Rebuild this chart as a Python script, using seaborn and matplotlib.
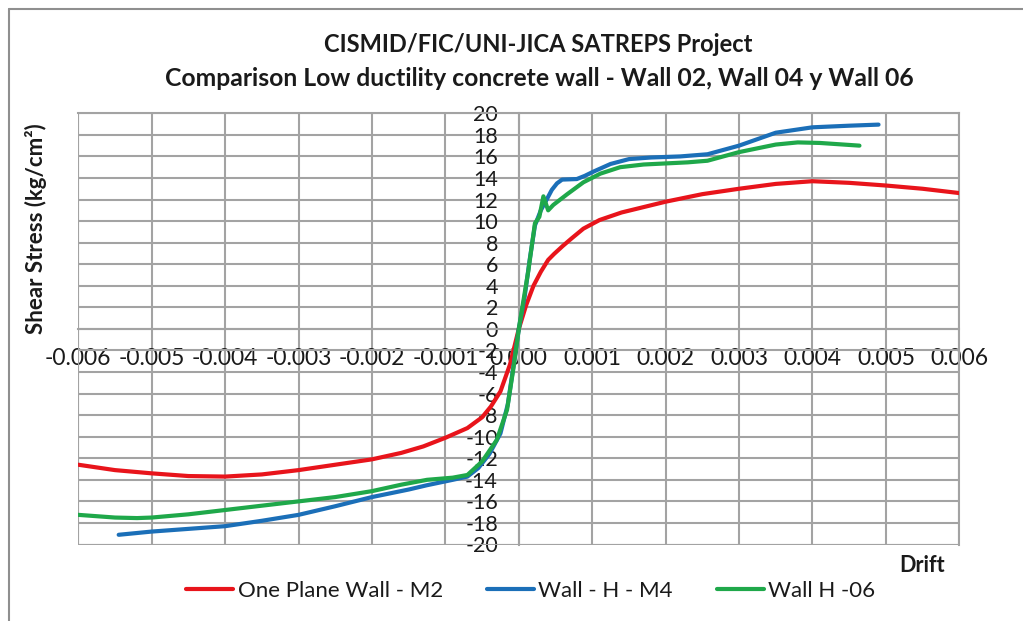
import numpy as np
import pandas as pd
import matplotlib
matplotlib.use("Agg")
import matplotlib.pyplot as plt
from matplotlib.lines import Line2D
import seaborn as sns

# ---- data -------------------------------------------------------------
series_names = ["One Plane Wall - M2", "Wall - H - M4", "Wall H -06"]
series_colors = ["#e8141b", "#1b6fb8", "#1fa84a"]

m2_drift = [-0.0060, -0.0055, -0.0050, -0.0045, -0.0040, -0.0035, -0.0030,
            -0.0025, -0.0020, -0.0016, -0.0013, -0.0010, -0.0007, -0.0005,
            -0.00038, -0.00025, -0.00012, 0.0, 0.0001, 0.0002, 0.0003,
            0.0004, 0.00048, 0.0006, 0.00072, 0.00088, 0.0011, 0.0014, 0.0017,
            0.0020, 0.0025, 0.0030, 0.0035, 0.0040, 0.0045, 0.0050, 0.0055,
            0.0060]
m2_stress = [-12.6, -13.1, -13.4, -13.65, -13.7, -13.5, -13.1,
             -12.6, -12.1, -11.5, -10.9, -10.1, -9.2, -8.2,
             -7.2, -5.8, -3.3, 0.0, 2.2, 4.0, 5.3,
             6.4, 6.95, 7.7, 8.4, 9.3, 10.1, 10.8, 11.3,
             11.8, 12.5, 13.0, 13.45, 13.7, 13.55, 13.3, 13.0,
             12.6]

m4_drift = [-0.00545, -0.0050, -0.0045, -0.0040, -0.0035, -0.0030, -0.0025,
            -0.0020, -0.0015, -0.00125, -0.0009, -0.0007, -0.00055, -0.0004,
            -0.00025, -0.00015, -0.00008, 0.0, 0.00008, 0.00015, 0.00022,
            0.0003, 0.00038, 0.00045, 0.00052, 0.00059, 0.00079, 0.0009,
            0.00102, 0.00125, 0.0015, 0.0018, 0.0022, 0.00257, 0.0030, 0.0035,
            0.0040, 0.0045, 0.0049]
m4_stress = [-19.1, -18.8, -18.55, -18.3, -17.8, -17.25, -16.45,
             -15.6, -14.9, -14.5, -14.0, -13.7, -12.9, -11.6,
             -9.7, -7.0, -3.8, 0.0, 3.0, 6.5, 9.6,
             11.0, 12.0, 12.9, 13.5, 13.85, 13.9, 14.2,
             14.6, 15.3, 15.75, 15.9, 16.0, 16.2, 17.0, 18.2,
             18.7, 18.85, 18.95]

h06_drift = [-0.0060, -0.0055, -0.0052, -0.0050, -0.0045, -0.0040, -0.0035,
             -0.0030, -0.0025, -0.0020, -0.0016, -0.00125, -0.0009, -0.0007,
             -0.0005, -0.0003, -0.00016, -0.00007, 0.0, 0.00006, 0.00013,
             0.00022, 0.00028, 0.000335, 0.0004, 0.00047, 0.00066, 0.00088,
             0.00111, 0.00138, 0.0017, 0.0020, 0.0023, 0.00257, 0.0030,
             0.0035, 0.0038, 0.0041, 0.00464]
h06_stress = [-17.25, -17.5, -17.55, -17.5, -17.2, -16.8, -16.4,
              -16.0, -15.6, -15.05, -14.45, -14.0, -13.8, -13.55,
              -12.3, -10.3, -7.5, -3.5, 0.0, 2.5, 5.4,
              9.8, 10.4, 12.3, 11.0, 11.5, 12.5, 13.6,
              14.4, 15.0, 15.25, 15.35, 15.45, 15.6, 16.4,
              17.1, 17.3, 17.25, 17.0]

x_ticks = [-0.006, -0.005, -0.004, -0.003, -0.002, -0.001, 0.0,
           0.001, 0.002, 0.003, 0.004, 0.005, 0.006]
x_tick_labels = ["-0.006", "-0.005", "-0.004", "-0.003", "-0.002", "-0.001",
                 "0.000", "0.001", "0.002", "0.003", "0.004", "0.005", "0.006"]
y_ticks = list(range(-20, 21, 2))

title_line1 = "CISMID/FIC/UNI-JICA SATREPS Project"
title_line2 = "Comparison Low ductility concrete wall - Wall 02, Wall 04 y Wall 06"
y_label = "Shear Stress (kg/cm²)"
x_label = "Drift"

# ---- long-form table --------------------------------------------------
frames = []
for name, xs, ys in zip(series_names,
                        [m2_drift, m4_drift, h06_drift],
                        [m2_stress, m4_stress, h06_stress]):
    frames.append(pd.DataFrame({"drift": xs, "stress": ys, "series": name}))
df = pd.concat(frames, ignore_index=True)

# ---- style ------------------------------------------------------------
sns.set_style("white")
plt.rcParams["font.family"] = ["Lato", "DejaVu Sans"]
grid_color = "#a3a3a3"
text_color = "#1a1a1a"

fig = plt.figure(figsize=(10.23, 6.21), dpi=100)
ax = fig.add_axes([78.3 / 1023, 1 - 544.5 / 621,
                   (959.3 - 78.3) / 1023, (544.5 - 113.3) / 621])

sns.lineplot(data=df, x="drift", y="stress", hue="series",
             hue_order=series_names, palette=series_colors,
             estimator=None, sort=False, linewidth=3.0, ax=ax,
             legend=True, zorder=3)
for line in ax.lines:
    line.set_solid_joinstyle("round")
    line.set_solid_capstyle("round")

ax.set_xlim(-0.006, 0.006)
ax.set_ylim(-20, 20)
ax.set_xticks(x_ticks)
ax.set_xticklabels(x_tick_labels)
ax.set_yticks(y_ticks)
ax.set_yticklabels([str(v) for v in y_ticks])
ax.grid(True, color=grid_color, linewidth=1.5, zorder=1)
ax.set_axisbelow(True)
ax.set_xlabel("")
ax.set_ylabel("")

# axes cross at the origin; tick labels sit beside the zero lines
for side in ["top", "right"]:
    ax.spines[side].set_color(grid_color)
    ax.spines[side].set_linewidth(1.5)
ax.spines["left"].set_position(("data", 0))
ax.spines["bottom"].set_position(("data", 0))
ax.spines["left"].set_color(grid_color)
ax.spines["bottom"].set_color(grid_color)
ax.spines["left"].set_linewidth(1.5)
ax.spines["bottom"].set_linewidth(1.5)
# full outer frame drawn as lines along the limits
ax.axvline(-0.006, color=grid_color, linewidth=1.5, zorder=1)
ax.axhline(-20, color=grid_color, linewidth=1.5, zorder=1)

ax.tick_params(axis="x", length=0, pad=14, labelsize=16.5, labelcolor=text_color)
ax.tick_params(axis="y", length=0, pad=15, labelsize=15.5, labelcolor=text_color)

# legend below the plot
handles, labels = ax.get_legend_handles_labels()
ax.get_legend().remove()
for h in handles:
    h.set_linewidth(3.0)
fig.legend(handles, labels, loc="center", bbox_to_anchor=(531 / 1023, 1 - 591 / 621),
           ncol=3, frameon=False, fontsize=16, handlelength=2.1,
           handletextpad=0.2, columnspacing=2.0, labelcolor=text_color)

# titles and axis names
fig.text(538 / 1023, 1 - 45 / 621, title_line1, ha="center", va="center",
         fontsize=17, fontweight="bold", color=text_color)
fig.text(539 / 1023, 1 - 79 / 621, title_line2, ha="center", va="center",
         fontsize=17.8, fontweight="bold", color=text_color)
fig.text(36 / 1023, 1 - 229 / 621, y_label, ha="center", va="center",
         rotation=90, fontsize=16, fontweight="bold", color=text_color)
fig.text(945 / 1023, 1 - 565 / 621, x_label, ha="right", va="center",
         fontsize=15.5, fontweight="bold", color=text_color)

# chart-area border (top and left edges)
border = "#8f8f8f"
fig.add_artist(Line2D([9.3 / 1023, 1.0], [1 - 8.7 / 621, 1 - 8.7 / 621],
                      transform=fig.transFigure, color=border, linewidth=1.5))
fig.add_artist(Line2D([9.3 / 1023, 9.3 / 1023], [0.0, 1 - 8.7 / 621],
                      transform=fig.transFigure, color=border, linewidth=1.5))

fig.savefig("out.png", dpi=100, facecolor="white")
